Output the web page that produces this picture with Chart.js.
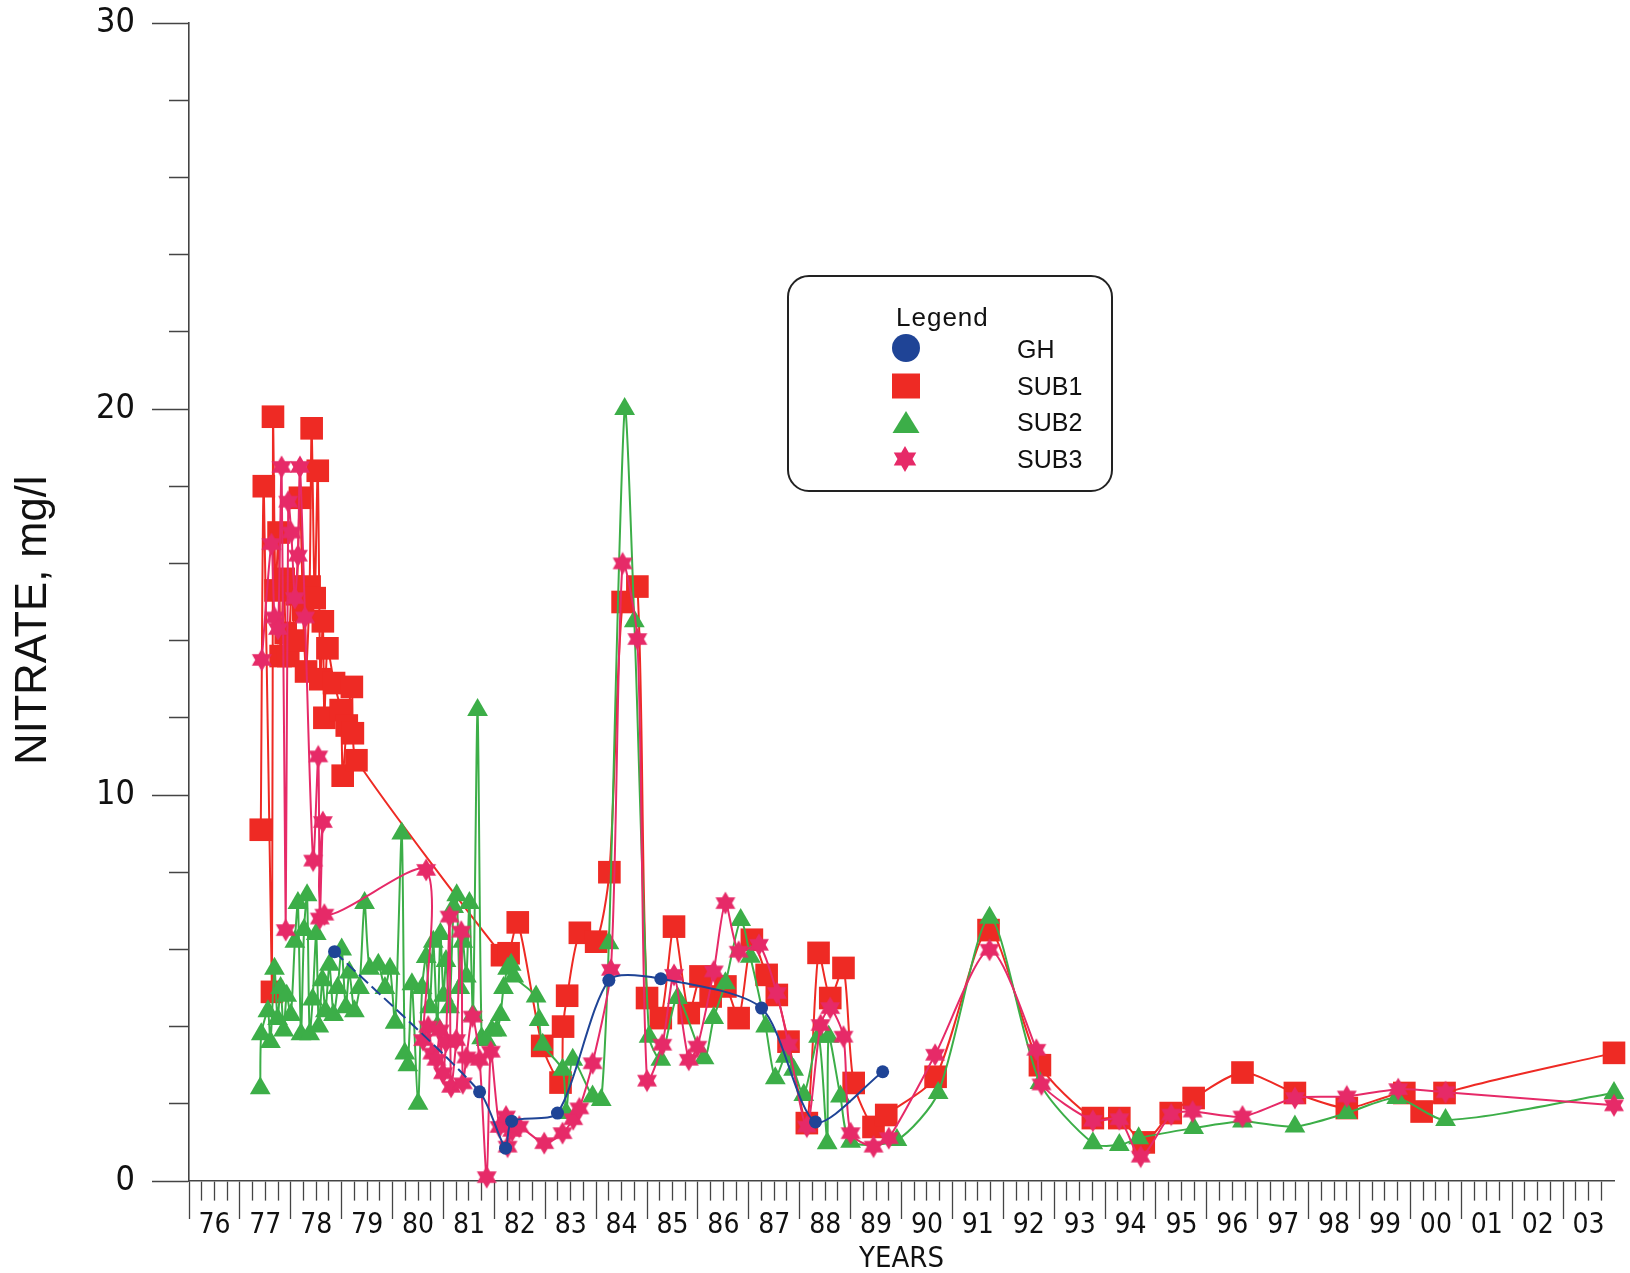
<!DOCTYPE html>
<html>
<head>
<meta charset="utf-8">
<title>Nitrate</title>
<script src="https://cdn.jsdelivr.net/npm/chart.js@4.4.1/dist/chart.umd.min.js"></script>
<style>
  html, body { margin: 0; padding: 0; background: #fff; }
  #wrap { position: relative; width: 1630px; height: 1273px; }
  #legendBox {
    position: absolute; left: 787px; top: 275px; width: 326px; height: 217px;
    box-sizing: border-box; border: 2px solid #222; border-radius: 22px;
  }
  .lg { position: absolute; font-family: "Liberation Sans", Arial, sans-serif; color: #111; white-space: nowrap; }
  .mk { position: absolute; width: 30px; height: 30px; }
</style>
</head>
<body>
<div id="wrap">
  <canvas id="chart" width="1630" height="1273"></canvas>
  <div id="legendBox"></div>
  <div class="lg" style="left:896px; top:304px; font-size:26px; line-height:26px; letter-spacing:1px;">Legend</div>
  <canvas class="mk" id="mkGH" width="30" height="30" style="left:891px; top:333px;"></canvas>
  <canvas class="mk" id="mkSUB1" width="30" height="30" style="left:891px; top:371px;"></canvas>
  <canvas class="mk" id="mkSUB2" width="30" height="30" style="left:891px; top:407px;"></canvas>
  <canvas class="mk" id="mkSUB3" width="30" height="30" style="left:890px; top:444px;"></canvas>
  <div class="lg" style="left:1017px; top:337px; font-size:25px; line-height:25px;">GH</div>
  <div class="lg" style="left:1017px; top:374px; font-size:25px; line-height:25px;">SUB1</div>
  <div class="lg" style="left:1017px; top:410px; font-size:25px; line-height:25px;">SUB2</div>
  <div class="lg" style="left:1017px; top:447px; font-size:25px; line-height:25px;">SUB3</div>
</div>
<script>
// tick labels
const yearLabels = ["76", "77", "78", "79", "80", "81", "82", "83", "84", "85", "86", "87", "88", "89",
  "90", "91", "92", "93", "94", "95", "96", "97", "98", "99", "00", "01", "02", "03"];
const yLabelValues = [0, 10, 20, 30];

// [decimal year, nitrate mg/l]
const gh = [
  [1978.86, 5.94], [1981.71, 2.31], [1982.22, 0.85], [1982.34, 1.55], [1983.24, 1.76],
  [1984.25, 5.2], [1985.27, 5.24], [1987.25, 4.48], [1988.31, 1.53], [1989.63, 2.83]
];

const sub1 = [
  [1977.41, 9.1], [1977.47, 18.0], [1977.63, 4.9], [1977.65, 19.8], [1977.70, 15.3],
  [1977.76, 16.8], [1977.80, 13.6], [1977.86, 15.6], [1977.90, 14.2], [1977.95, 13.6],
  [1978.02, 15.4], [1978.08, 14.0], [1978.12, 15.2], [1978.18, 17.7], [1978.24, 14.8],
  [1978.30, 13.2], [1978.37, 15.4], [1978.41, 19.5], [1978.47, 15.1], [1978.53, 18.4],
  [1978.58, 13.0], [1978.63, 14.5], [1978.66, 12.0], [1978.72, 13.8], [1978.85, 12.9],
  [1978.98, 12.2], [1979.02, 10.5], [1979.10, 11.8], [1979.20, 12.8], [1979.22, 11.6],
  [1979.29, 10.9], [1982.15, 5.85], [1982.28, 5.9], [1982.46, 6.7], [1982.94, 3.5],
  [1983.30, 2.55], [1983.35, 4.0], [1983.43, 4.8], [1983.68, 6.43], [1984.00, 6.2],
  [1984.26, 8.0], [1984.52, 15.0], [1984.81, 15.4], [1985.00, 4.74], [1985.27, 4.22],
  [1985.53, 6.59], [1985.82, 4.35], [1986.05, 5.3], [1986.25, 4.78], [1986.54, 5.04],
  [1986.80, 4.22], [1987.06, 6.25], [1987.35, 5.34], [1987.55, 4.82], [1987.78, 3.61],
  [1988.14, 1.5], [1988.37, 5.91], [1988.60, 4.74], [1988.86, 5.52], [1989.06, 2.54],
  [1989.45, 1.4], [1989.70, 1.71], [1990.67, 2.7], [1991.71, 6.5], [1992.72, 3.0],
  [1993.76, 1.63], [1994.28, 1.63], [1994.76, 1.0], [1995.29, 1.76], [1995.74, 2.15],
  [1996.70, 2.81], [1997.73, 2.28], [1998.75, 1.89], [1999.88, 2.28], [2000.22, 1.8],
  [2000.67, 2.28], [2004.00, 3.32]
];

const sub2 = [
  [1977.40, 2.4], [1977.42, 3.8], [1977.55, 4.4], [1977.60, 3.6], [1977.68, 5.5],
  [1977.74, 4.2], [1977.80, 5.0], [1977.86, 3.9], [1977.92, 4.8], [1978.00, 4.3],
  [1978.08, 6.2], [1978.14, 7.2], [1978.20, 3.8], [1978.26, 6.5], [1978.32, 7.4],
  [1978.37, 3.8], [1978.43, 4.7], [1978.50, 6.4], [1978.55, 4.0], [1978.62, 5.2],
  [1978.68, 4.4], [1978.76, 5.6], [1978.84, 4.3], [1978.92, 5.0], [1979.00, 6.0],
  [1979.08, 4.5], [1979.15, 5.4], [1979.25, 4.4], [1979.35, 5.0], [1979.45, 7.2],
  [1979.55, 5.5], [1979.72, 5.6], [1979.85, 5.0], [1979.95, 5.5], [1980.05, 4.1],
  [1980.18, 9.0], [1980.24, 3.3], [1980.30, 3.0], [1980.38, 5.1], [1980.50, 2.0],
  [1980.58, 5.0], [1980.66, 5.8], [1980.73, 4.5], [1980.80, 6.2], [1980.88, 4.0],
  [1980.94, 6.4], [1981.00, 4.8], [1981.05, 5.7], [1981.12, 4.5], [1981.20, 7.1],
  [1981.26, 7.4], [1981.32, 5.0], [1981.38, 6.2], [1981.45, 5.3], [1981.51, 7.2],
  [1981.58, 4.3], [1981.67, 12.2], [1981.75, 3.7], [1981.84, 3.65], [1981.95, 3.9],
  [1982.05, 3.9], [1982.12, 4.3], [1982.18, 5.0], [1982.26, 5.5], [1982.33, 5.6],
  [1982.38, 5.3], [1982.82, 4.78], [1982.88, 4.17], [1982.95, 3.53], [1983.34, 2.88],
  [1983.41, 1.76], [1983.54, 3.14], [1983.93, 2.19], [1984.10, 2.1], [1984.25, 6.16],
  [1984.56, 20.0], [1984.75, 14.5], [1985.04, 3.74], [1985.27, 3.14], [1985.60, 4.74],
  [1986.12, 3.18], [1986.31, 4.22], [1986.54, 5.12], [1986.84, 6.76], [1987.03, 5.81],
  [1987.33, 4.0], [1987.52, 2.66], [1987.72, 3.22], [1987.88, 2.88], [1988.08, 2.23],
  [1988.37, 3.74], [1988.54, 0.98], [1988.57, 3.74], [1988.80, 2.19], [1989.00, 1.02],
  [1989.91, 1.06], [1990.72, 2.28], [1991.73, 6.82], [1992.72, 2.54], [1993.76, 0.98],
  [1994.28, 0.93], [1994.66, 1.11], [1995.74, 1.37], [1996.70, 1.54], [1997.73, 1.41],
  [1998.75, 1.76], [1999.73, 2.15], [2000.69, 1.58], [2004.00, 2.28]
];

const sub3 = [
  [1977.43, 13.5], [1977.62, 16.5], [1977.68, 14.6], [1977.75, 14.3], [1977.82, 18.5],
  [1977.90, 6.5], [1977.95, 17.6], [1978.01, 16.8], [1978.08, 15.1], [1978.14, 16.2],
  [1978.18, 18.5], [1978.28, 14.6], [1978.44, 8.3], [1978.54, 11.0], [1978.57, 6.8],
  [1978.63, 9.3], [1978.66, 6.9], [1980.66, 8.06], [1980.60, 3.65], [1980.70, 4.0],
  [1980.78, 3.3], [1980.86, 3.14], [1980.93, 3.9], [1980.99, 2.79], [1981.05, 3.6],
  [1981.12, 6.85], [1981.15, 2.44], [1981.25, 3.65], [1981.35, 6.46], [1981.38, 2.53],
  [1981.45, 3.2], [1981.57, 4.26], [1981.71, 3.14], [1981.85, 0.1], [1981.93, 3.35],
  [1982.10, 1.4], [1982.23, 1.67], [1982.26, 0.89], [1982.35, 1.3], [1982.49, 1.41],
  [1982.98, 0.98], [1983.34, 1.24], [1983.55, 1.6], [1983.67, 1.88], [1983.93, 3.05],
  [1984.29, 5.47], [1984.52, 16.0], [1984.81, 14.04], [1985.00, 2.6], [1985.30, 3.53],
  [1985.53, 5.34], [1985.82, 3.14], [1985.99, 3.48], [1986.31, 5.43], [1986.54, 7.2],
  [1986.80, 5.94], [1987.20, 6.12], [1987.55, 4.87], [1987.78, 3.53], [1988.14, 1.41],
  [1988.41, 4.04], [1988.60, 4.48], [1988.86, 3.74], [1989.00, 1.24], [1989.45, 0.89],
  [1989.75, 1.11], [1990.66, 3.27], [1991.73, 5.99], [1992.65, 3.4], [1992.75, 2.5],
  [1993.76, 1.56], [1994.28, 1.6], [1994.70, 0.63], [1995.30, 1.72], [1995.72, 1.8],
  [1996.70, 1.67], [1997.73, 2.15], [1998.75, 2.19], [1999.76, 2.38], [2000.69, 2.3],
  [2004.00, 1.96]
];

const BLUE = "#1f4496";
const RED = "#ee2a24";
const GREEN = "#3cae48";
const PINK = "#e62a68";
const AXIS = "#444";

function toPoints(rows) {
  return rows.map((r) => ({ x: r[0], y: r[1] }));
}

// six pointed star used for SUB3
function hexagram(ctx, cx, cy, r, color) {
  ctx.beginPath();
  for (let k = 0; k < 12; k++) {
    const rad = k % 2 === 0 ? r : r / Math.sqrt(3);
    const a = (k * 30 - 90) * Math.PI / 180;
    const px = cx + rad * Math.cos(a);
    const py = cy + rad * Math.sin(a);
    if (k === 0) ctx.moveTo(px, py); else ctx.lineTo(px, py);
  }
  ctx.closePath();
  ctx.fillStyle = color;
  ctx.fill();
}

const starImg = document.createElement("canvas");
starImg.width = 24;
starImg.height = 24;
hexagram(starImg.getContext("2d"), 12, 12, 11.5, PINK);

// legend markers
(function () {
  let c = document.getElementById("mkGH").getContext("2d");
  c.fillStyle = BLUE; c.beginPath(); c.arc(15, 15, 14, 0, Math.PI * 2); c.fill();
  c = document.getElementById("mkSUB1").getContext("2d");
  c.fillStyle = RED; c.fillRect(1, 2.5, 28, 25);
  c = document.getElementById("mkSUB2").getContext("2d");
  c.fillStyle = GREEN; c.beginPath(); c.moveTo(15, 4); c.lineTo(28.5, 26); c.lineTo(1.5, 26); c.closePath(); c.fill();
  c = document.getElementById("mkSUB3").getContext("2d");
  hexagram(c, 15, 15, 13, PINK);
})();

const xTickValues = [];
for (let i = 0; i < yearLabels.length * 4; i++) xTickValues.push(1976 + i * 0.25);
const yTickValues = [];
for (let v = 0; v <= 30; v += 2) yTickValues.push(v);

const lineBase = { showLine: true, borderWidth: 2, tension: 0.25, clip: false, pointBorderWidth: 0 };

new Chart(document.getElementById("chart"), {
  type: "scatter",
  data: {
    datasets: [
      Object.assign({}, lineBase, {
        label: "GH", data: toPoints(gh), order: 0,
        borderColor: BLUE, backgroundColor: BLUE, pointStyle: "circle", pointRadius: 6.5,
        segment: { borderDash: (ctx) => (ctx.p0DataIndex === 0 ? [12, 5] : undefined) },
      }),
      Object.assign({}, lineBase, {
        label: "SUB3", data: toPoints(sub3), order: 1,
        borderColor: PINK, backgroundColor: PINK, pointStyle: starImg, pointRadius: 11,
      }),
      Object.assign({}, lineBase, {
        label: "SUB2", data: toPoints(sub2), order: 2,
        borderColor: GREEN, backgroundColor: GREEN, pointStyle: "triangle", pointRadius: 12,
      }),
      Object.assign({}, lineBase, {
        label: "SUB1", data: toPoints(sub1), order: 3,
        borderColor: RED, backgroundColor: RED, pointStyle: "rect", pointRadius: 16,
      }),
    ],
  },
  options: {
    responsive: false,
    animation: false,
    events: [],
    layout: { padding: { top: 23, right: 13, left: 0, bottom: 0 } },
    plugins: { legend: { display: false }, tooltip: { enabled: false } },
    scales: {
      x: {
        type: "linear",
        min: 1976,
        max: 2004,
        afterBuildTicks: (scale) => {
          scale.ticks = xTickValues.map((v) => ({ value: v }));
        },
        afterFit: (scale) => {
          scale.height = 92;
        },
        border: { display: true, color: AXIS, width: 1.6 },
        grid: {
          drawOnChartArea: false,
          drawTicks: true,
          tickLength: 38,
          tickColor: AXIS,
          tickWidth: 1.3,
          tickBorderDash: (ctx) => (ctx.tick && ctx.tick.value % 1 === 0 ? [] : [19, 100]),
        },
        ticks: {
          autoSkip: false,
          maxRotation: 0,
          minRotation: 0,
          padding: -10,
          color: "#111",
          font: { family: "'DejaVu Sans Condensed', 'DejaVu Sans', sans-serif", size: 28 },
          callback: (value) => {
            const year = Math.floor(value);
            return value - year === 0.5 ? yearLabels[year - 1976] : "";
          },
        },
        title: {
          display: true,
          text: "YEARS",
          color: "#111",
          padding: { top: 0, bottom: 0 },
          font: { family: "'DejaVu Sans Condensed', 'DejaVu Sans', sans-serif", size: 29, lineHeight: 0.9 },
        },
      },
      y: {
        type: "linear",
        min: 0,
        max: 30,
        afterBuildTicks: (scale) => {
          scale.ticks = yTickValues.map((v) => ({ value: v }));
        },
        afterFit: (scale) => {
          scale.width = 189;
          scale.paddingTop = 0;
          scale.paddingBottom = 0;
        },
        border: { display: true, color: AXIS, width: 1.6 },
        grid: {
          drawOnChartArea: false,
          drawTicks: true,
          tickLength: 37,
          tickColor: AXIS,
          tickWidth: 1.3,
          tickBorderDash: (ctx) => (ctx.tick && ctx.tick.value % 10 === 0 ? [] : [0, 17, 21, 100]),
        },
        ticks: {
          autoSkip: false,
          padding: 17,
          color: "#111",
          font: { family: "'DejaVu Sans Condensed', 'DejaVu Sans', sans-serif", size: 34 },
          callback: (value) => (yLabelValues.includes(value) ? String(value) : ""),
        },
        title: {
          display: true,
          text: "NITRATE, mg/l\u00a0\u00a0\u00a0",
          color: "#111",
          padding: { top: 12, bottom: 0 },
          font: { family: "'Liberation Sans', Arial, sans-serif", size: 43.5, lineHeight: 1.0 },
        },
      },
    },
  },
});
</script>
</body>
</html>
